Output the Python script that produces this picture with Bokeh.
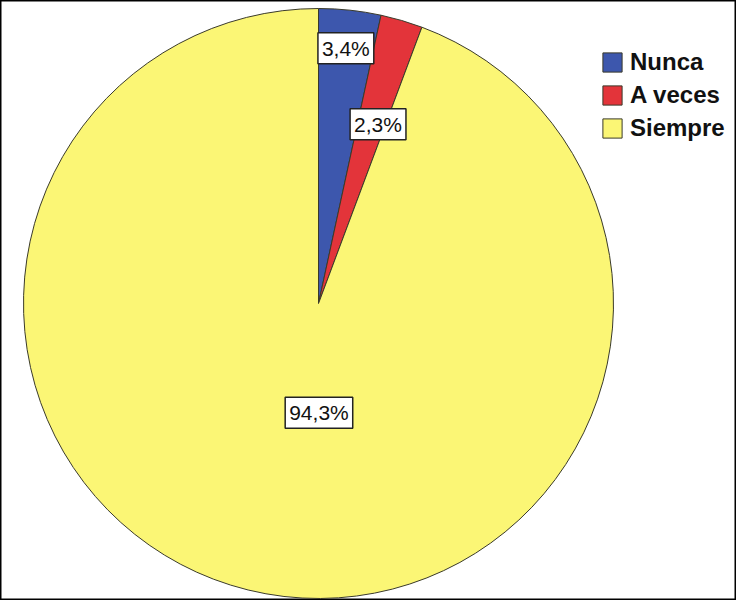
import math
from bokeh.plotting import figure
from bokeh.models import ColumnDataSource, Range1d, Legend, LegendItem
from bokeh.core.properties import value
from bokeh.embed import file_html
from bokeh.resources import INLINE

# data
categories = ["Nunca", "A veces", "Siempre"]
percents = [3.4, 2.3, 94.3]
labels = ["3,4%", "2,3%", "94,3%"]
colors = ["#3D57AD", "#E3343A", "#FBF675"]

# label placement (style): radius fraction and angle offset from slice mid
label_rfrac = [0.87, 0.64, 0.37]
label_ang_shift = [0.0, -2.0, 10.5]

W, H = 736, 600
cx, cy, R = 318, 297, 295

total = sum(percents)
starts, ends, lx, ly = [], [], [], []
a = math.pi / 2
for i, v in enumerate(percents):
    sweep = v / total * 2 * math.pi
    end = a - sweep
    starts.append(end)
    ends.append(a)
    mid = (a + end) / 2 + math.radians(label_ang_shift[i])
    lx.append(cx + label_rfrac[i] * R * math.cos(mid))
    ly.append(cy + label_rfrac[i] * R * math.sin(mid))
    a = end

src = ColumnDataSource(dict(cat=categories, start=starts, end=ends, color=colors,
                            lab=labels, lx=lx, ly=ly, x=[cx]*3, y=[cy]*3))

p = figure(width=W, height=H, output_backend="svg", toolbar_location=None,
           x_range=Range1d(0, W), y_range=Range1d(0, H), min_border=0,
           outline_line_color="black", outline_line_width=2)
p.axis.visible = False
p.grid.visible = False
p.background_fill_color = "white"

r = p.wedge(x="x", y="y", radius=R, radius_units="screen", start_angle="start", end_angle="end",
            fill_color="color", line_color="#3a3a2a", line_width=1, source=src)

p.text(x="lx", y="ly", text="lab", source=src, text_align="center", text_baseline="middle",
       text_font=value("Liberation Sans"), text_font_size="21px", text_color="#111111",
       background_fill_color="white", border_line_color="#222222", border_line_width=1.5,
       padding=4)

legend = Legend(items=[LegendItem(label=c, renderers=[r], index=i) for i, c in enumerate(categories)],
                location=(600, 458), orientation="vertical",
                glyph_width=24, glyph_height=24, label_height=24, spacing=5,
                label_standoff=6, padding=0, margin=0,
                label_text_font="Liberation Sans", label_text_font_style="bold",
                label_text_font_size="24px", label_text_color="#111111",
                border_line_color=None, background_fill_alpha=0)
p.add_layout(legend)

open("out.html", "w").write(file_html(p, INLINE))
